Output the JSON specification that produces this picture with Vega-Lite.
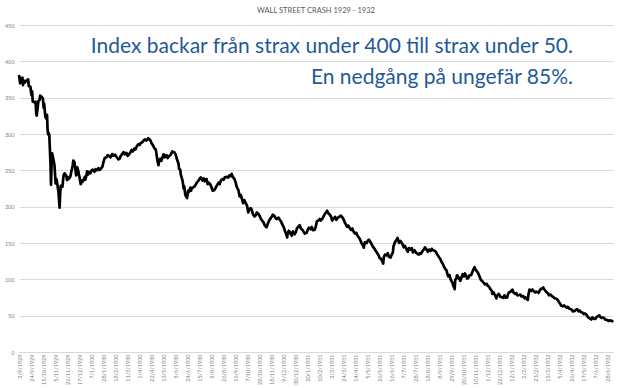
{
  "$schema": "https://vega.github.io/schema/vega-lite/v6.json",
  "width": 594,
  "height": 327,
  "autosize": {"type": "none"},
  "padding": {"left": 19, "top": 25, "right": 7, "bottom": 36},
  "background": "white",
  "config": {
    "view": {"stroke": null},
    "axisX": {"title": null, "labelAngle": 270, "labelFontSize": 5.5, "labelFont": "Lato", "labelColor": "#7f7f7f", "ticks": false, "grid": false, "domainColor": "#d9d9d9", "labelPadding": 2, "labelOverlap": false, "labelFlush": false, "labelBound": false},
    "axisY": {"title": null, "labelFontSize": 5.5, "labelFont": "Lato", "labelColor": "#7f7f7f", "ticks": false, "domain": false, "grid": true, "gridColor": "#d9d9d9", "gridWidth": 1, "labelPadding": 5, "labelOverlap": false, "labelFlush": false}
  },
  "title": {"text": "WALL STREET CRASH 1929 - 1932", "fontSize": 7.5, "font": "Lato", "fontWeight": "normal", "color": "#595959", "anchor": "middle", "offset": 8.5},
  "layer": [
    {
      "data": {
        "format": {"parse": {"d": "utc:'%Y-%m-%d'"}},
        "values": [
          {"d":"1929-09-03","v":381.2},{"d":"1929-09-05","v":369.8},{"d":"1929-09-06","v":376.3},{"d":"1929-09-09","v":377.6},{"d":"1929-09-10","v":367.3},{"d":"1929-09-11","v":373.7},{"d":"1929-09-13","v":370.6},{"d":"1929-09-16","v":373.6},{"d":"1929-09-19","v":375.2},{"d":"1929-09-20","v":366.1},{"d":"1929-09-23","v":365.0},{"d":"1929-09-24","v":357.6},{"d":"1929-09-25","v":353.3},{"d":"1929-09-26","v":358.7},{"d":"1929-09-27","v":344.8},{"d":"1929-09-30","v":343.5},{"d":"1929-10-02","v":344.5},{"d":"1929-10-03","v":329.9},{"d":"1929-10-04","v":325.2},{"d":"1929-10-07","v":345.7},{"d":"1929-10-09","v":346.7},{"d":"1929-10-10","v":352.9},{"d":"1929-10-11","v":352.3},{"d":"1929-10-14","v":350.0},{"d":"1929-10-15","v":347.2},{"d":"1929-10-16","v":336.1},{"d":"1929-10-17","v":341.9},{"d":"1929-10-18","v":333.3},{"d":"1929-10-19","v":323.9},{"d":"1929-10-21","v":320.9},{"d":"1929-10-22","v":326.5},{"d":"1929-10-23","v":305.9},{"d":"1929-10-24","v":299.5},{"d":"1929-10-25","v":301.2},{"d":"1929-10-26","v":299.0},{"d":"1929-10-28","v":260.6},{"d":"1929-10-29","v":230.1},{"d":"1929-10-30","v":258.5},{"d":"1929-10-31","v":273.5},{"d":"1929-11-04","v":257.7},{"d":"1929-11-06","v":232.1},{"d":"1929-11-07","v":238.2},{"d":"1929-11-08","v":236.5},{"d":"1929-11-11","v":220.4},{"d":"1929-11-12","v":209.7},{"d":"1929-11-13","v":198.7},{"d":"1929-11-14","v":217.3},{"d":"1929-11-15","v":228.7},{"d":"1929-11-18","v":227.6},{"d":"1929-11-19","v":236.0},{"d":"1929-11-20","v":243.0},{"d":"1929-11-21","v":245.2},{"d":"1929-11-22","v":245.7},{"d":"1929-11-25","v":241.5},{"d":"1929-11-26","v":236.5},{"d":"1929-11-27","v":241.1},{"d":"1929-11-29","v":238.0},{"d":"1929-12-02","v":241.7},{"d":"1929-12-03","v":246.0},{"d":"1929-12-04","v":250.0},{"d":"1929-12-05","v":253.0},{"d":"1929-12-06","v":257.0},{"d":"1929-12-07","v":263.5},{"d":"1929-12-09","v":261.0},{"d":"1929-12-10","v":256.0},{"d":"1929-12-11","v":248.5},{"d":"1929-12-12","v":243.0},{"d":"1929-12-13","v":253.0},{"d":"1929-12-14","v":254.0},{"d":"1929-12-16","v":248.0},{"d":"1929-12-17","v":243.0},{"d":"1929-12-18","v":240.0},{"d":"1929-12-19","v":235.0},{"d":"1929-12-20","v":230.9},{"d":"1929-12-21","v":233.0},{"d":"1929-12-23","v":236.5},{"d":"1929-12-24","v":235.0},{"d":"1929-12-26","v":238.0},{"d":"1929-12-27","v":241.0},{"d":"1929-12-28","v":237.0},{"d":"1929-12-30","v":243.0},{"d":"1929-12-31","v":248.5},
          {"d":"1930-01-02","v":244.2},{"d":"1930-01-03","v":248.0},{"d":"1930-01-06","v":246.0},{"d":"1930-01-08","v":250.0},{"d":"1930-01-10","v":251.0},{"d":"1930-01-13","v":248.0},{"d":"1930-01-15","v":251.5},{"d":"1930-01-17","v":250.0},{"d":"1930-01-20","v":253.0},{"d":"1930-01-22","v":250.5},{"d":"1930-01-24","v":252.0},{"d":"1930-01-27","v":255.0},{"d":"1930-01-28","v":259.0},{"d":"1930-01-29","v":262.0},{"d":"1930-01-31","v":267.1},{"d":"1930-02-03","v":268.0},{"d":"1930-02-05","v":271.0},{"d":"1930-02-07","v":270.0},{"d":"1930-02-10","v":268.0},{"d":"1930-02-13","v":272.4},{"d":"1930-02-15","v":270.0},{"d":"1930-02-18","v":271.5},{"d":"1930-02-20","v":269.0},{"d":"1930-02-24","v":265.0},{"d":"1930-02-26","v":266.0},{"d":"1930-02-28","v":270.0},{"d":"1930-03-03","v":273.0},{"d":"1930-03-05","v":275.0},{"d":"1930-03-07","v":272.0},{"d":"1930-03-10","v":274.0},{"d":"1930-03-12","v":270.0},{"d":"1930-03-14","v":271.5},{"d":"1930-03-17","v":275.0},{"d":"1930-03-19","v":278.0},{"d":"1930-03-21","v":276.0},{"d":"1930-03-24","v":280.0},{"d":"1930-03-26","v":279.0},{"d":"1930-03-28","v":283.0},{"d":"1930-03-31","v":286.1},{"d":"1930-04-02","v":285.0},{"d":"1930-04-04","v":287.5},{"d":"1930-04-07","v":289.0},{"d":"1930-04-09","v":291.0},{"d":"1930-04-11","v":292.5},{"d":"1930-04-14","v":291.0},{"d":"1930-04-16","v":293.0},{"d":"1930-04-17","v":294.1},{"d":"1930-04-21","v":291.0},{"d":"1930-04-23","v":287.0},{"d":"1930-04-25","v":285.0},{"d":"1930-04-28","v":280.0},{"d":"1930-04-30","v":279.2},{"d":"1930-05-01","v":275.0},{"d":"1930-05-03","v":264.0},{"d":"1930-05-05","v":257.0},{"d":"1930-05-06","v":262.0},{"d":"1930-05-08","v":266.0},{"d":"1930-05-10","v":263.0},{"d":"1930-05-12","v":268.0},{"d":"1930-05-14","v":272.0},{"d":"1930-05-16","v":268.0},{"d":"1930-05-19","v":271.0},{"d":"1930-05-21","v":267.0},{"d":"1930-05-23","v":269.0},{"d":"1930-05-26","v":271.0},{"d":"1930-05-28","v":274.0},{"d":"1930-05-29","v":276.0},{"d":"1930-05-31","v":275.1},{"d":"1930-06-02","v":274.5},{"d":"1930-06-04","v":272.0},{"d":"1930-06-06","v":266.0},{"d":"1930-06-09","v":259.0},{"d":"1930-06-10","v":252.0},{"d":"1930-06-12","v":251.0},{"d":"1930-06-13","v":244.0},{"d":"1930-06-16","v":236.0},{"d":"1930-06-17","v":231.0},{"d":"1930-06-18","v":225.0},{"d":"1930-06-19","v":228.0},{"d":"1930-06-20","v":222.0},{"d":"1930-06-21","v":216.0},{"d":"1930-06-23","v":213.0},{"d":"1930-06-24","v":211.8},{"d":"1930-06-25","v":218.0},{"d":"1930-06-26","v":222.0},{"d":"1930-06-27","v":220.0},{"d":"1930-06-30","v":226.3},{"d":"1930-07-01","v":222.0},{"d":"1930-07-02","v":225.0},{"d":"1930-07-07","v":228.0},{"d":"1930-07-09","v":230.0},{"d":"1930-07-11","v":233.0},{"d":"1930-07-14","v":236.0},{"d":"1930-07-16","v":238.5},{"d":"1930-07-18","v":240.4},{"d":"1930-07-21","v":236.0},{"d":"1930-07-23","v":239.0},{"d":"1930-07-25","v":235.0},{"d":"1930-07-28","v":238.0},{"d":"1930-07-30","v":231.0},{"d":"1930-08-01","v":233.0},{"d":"1930-08-04","v":230.0},{"d":"1930-08-06","v":226.0},{"d":"1930-08-08","v":222.0},{"d":"1930-08-11","v":223.0},{"d":"1930-08-13","v":226.0},{"d":"1930-08-15","v":229.0},{"d":"1930-08-18","v":233.0},{"d":"1930-08-20","v":231.0},{"d":"1930-08-22","v":236.0},{"d":"1930-08-25","v":238.0},{"d":"1930-08-27","v":237.0},{"d":"1930-08-29","v":240.4},{"d":"1930-09-02","v":241.0},{"d":"1930-09-04","v":240.0},{"d":"1930-09-06","v":243.0},{"d":"1930-09-09","v":242.0},{"d":"1930-09-10","v":245.1},{"d":"1930-09-12","v":241.0},{"d":"1930-09-15","v":238.0},{"d":"1930-09-17","v":233.0},{"d":"1930-09-19","v":227.0},{"d":"1930-09-22","v":222.0},{"d":"1930-09-24","v":214.0},{"d":"1930-09-26","v":216.0},{"d":"1930-09-29","v":208.0},{"d":"1930-09-30","v":204.9},{"d":"1930-10-02","v":209.0},{"d":"1930-10-04","v":206.0},{"d":"1930-10-07","v":201.0},{"d":"1930-10-09","v":192.0},{"d":"1930-10-10","v":195.0},{"d":"1930-10-13","v":198.0},{"d":"1930-10-15","v":196.0},{"d":"1930-10-17","v":190.0},{"d":"1930-10-20","v":186.5},{"d":"1930-10-22","v":188.0},{"d":"1930-10-24","v":192.0},{"d":"1930-10-27","v":190.0},{"d":"1930-10-29","v":187.0},{"d":"1930-10-31","v":183.4},{"d":"1930-11-03","v":180.0},{"d":"1930-11-05","v":178.0},{"d":"1930-11-07","v":174.0},{"d":"1930-11-10","v":171.6},{"d":"1930-11-12","v":176.0},{"d":"1930-11-14","v":180.0},{"d":"1930-11-17","v":184.0},{"d":"1930-11-19","v":186.0},{"d":"1930-11-21","v":189.0},{"d":"1930-11-24","v":187.0},{"d":"1930-11-26","v":184.0},{"d":"1930-11-28","v":183.0},{"d":"1930-12-01","v":185.0},{"d":"1930-12-03","v":182.0},{"d":"1930-12-05","v":180.0},{"d":"1930-12-08","v":175.0},{"d":"1930-12-10","v":172.0},{"d":"1930-12-12","v":167.0},{"d":"1930-12-15","v":161.0},{"d":"1930-12-16","v":157.5},{"d":"1930-12-17","v":163.0},{"d":"1930-12-19","v":167.0},{"d":"1930-12-22","v":163.0},{"d":"1930-12-24","v":160.0},{"d":"1930-12-26","v":166.0},{"d":"1930-12-29","v":162.0},{"d":"1930-12-31","v":164.6},
          {"d":"1931-01-02","v":169.8},{"d":"1931-01-05","v":173.0},{"d":"1931-01-07","v":174.5},{"d":"1931-01-09","v":170.0},{"d":"1931-01-12","v":168.0},{"d":"1931-01-14","v":165.0},{"d":"1931-01-16","v":163.0},{"d":"1931-01-19","v":164.0},{"d":"1931-01-21","v":168.0},{"d":"1931-01-23","v":171.0},{"d":"1931-01-26","v":169.0},{"d":"1931-01-28","v":172.0},{"d":"1931-01-30","v":167.7},{"d":"1931-02-02","v":168.0},{"d":"1931-02-04","v":172.0},{"d":"1931-02-06","v":180.0},{"d":"1931-02-09","v":181.0},{"d":"1931-02-11","v":183.0},{"d":"1931-02-13","v":181.0},{"d":"1931-02-16","v":184.0},{"d":"1931-02-18","v":187.0},{"d":"1931-02-20","v":190.0},{"d":"1931-02-24","v":194.4},{"d":"1931-02-26","v":191.0},{"d":"1931-02-28","v":189.7},{"d":"1931-03-03","v":186.0},{"d":"1931-03-05","v":181.0},{"d":"1931-03-07","v":183.0},{"d":"1931-03-10","v":186.0},{"d":"1931-03-12","v":182.0},{"d":"1931-03-14","v":184.0},{"d":"1931-03-17","v":186.0},{"d":"1931-03-20","v":187.7},{"d":"1931-03-23","v":185.0},{"d":"1931-03-25","v":182.0},{"d":"1931-03-27","v":178.0},{"d":"1931-03-31","v":172.4},{"d":"1931-04-02","v":174.0},{"d":"1931-04-04","v":171.0},{"d":"1931-04-07","v":168.0},{"d":"1931-04-09","v":170.0},{"d":"1931-04-11","v":166.0},{"d":"1931-04-14","v":163.0},{"d":"1931-04-16","v":164.0},{"d":"1931-04-18","v":160.0},{"d":"1931-04-21","v":157.0},{"d":"1931-04-23","v":154.0},{"d":"1931-04-25","v":150.0},{"d":"1931-04-28","v":146.0},{"d":"1931-04-29","v":143.6},{"d":"1931-05-01","v":151.0},{"d":"1931-05-04","v":150.0},{"d":"1931-05-06","v":153.0},{"d":"1931-05-08","v":154.5},{"d":"1931-05-11","v":151.0},{"d":"1931-05-13","v":148.0},{"d":"1931-05-15","v":145.0},{"d":"1931-05-18","v":142.0},{"d":"1931-05-20","v":139.0},{"d":"1931-05-22","v":137.0},{"d":"1931-05-25","v":133.0},{"d":"1931-05-27","v":129.0},{"d":"1931-05-29","v":128.5},{"d":"1931-06-01","v":124.0},{"d":"1931-06-02","v":121.7},{"d":"1931-06-03","v":130.0},{"d":"1931-06-05","v":134.0},{"d":"1931-06-08","v":133.0},{"d":"1931-06-10","v":136.0},{"d":"1931-06-12","v":131.0},{"d":"1931-06-15","v":130.0},{"d":"1931-06-17","v":134.0},{"d":"1931-06-19","v":137.0},{"d":"1931-06-20","v":145.0},{"d":"1931-06-22","v":150.0},{"d":"1931-06-24","v":153.0},{"d":"1931-06-26","v":155.0},{"d":"1931-06-27","v":156.9},{"d":"1931-06-29","v":152.0},{"d":"1931-06-30","v":150.2},{"d":"1931-07-02","v":153.0},{"d":"1931-07-06","v":148.0},{"d":"1931-07-08","v":144.0},{"d":"1931-07-10","v":146.0},{"d":"1931-07-13","v":141.0},{"d":"1931-07-15","v":138.0},{"d":"1931-07-17","v":143.0},{"d":"1931-07-20","v":141.0},{"d":"1931-07-22","v":143.0},{"d":"1931-07-24","v":137.0},{"d":"1931-07-27","v":140.0},{"d":"1931-07-29","v":137.0},{"d":"1931-07-31","v":135.7},{"d":"1931-08-03","v":134.0},{"d":"1931-08-05","v":136.0},{"d":"1931-08-07","v":135.0},{"d":"1931-08-10","v":139.0},{"d":"1931-08-12","v":141.0},{"d":"1931-08-14","v":144.0},{"d":"1931-08-15","v":143.0},{"d":"1931-08-17","v":141.0},{"d":"1931-08-19","v":138.0},{"d":"1931-08-21","v":141.0},{"d":"1931-08-24","v":139.0},{"d":"1931-08-26","v":142.0},{"d":"1931-08-28","v":140.0},{"d":"1931-08-31","v":139.4},{"d":"1931-09-02","v":138.0},{"d":"1931-09-04","v":135.0},{"d":"1931-09-08","v":130.0},{"d":"1931-09-10","v":128.0},{"d":"1931-09-12","v":124.0},{"d":"1931-09-14","v":122.0},{"d":"1931-09-16","v":118.0},{"d":"1931-09-18","v":115.0},{"d":"1931-09-21","v":112.0},{"d":"1931-09-22","v":108.0},{"d":"1931-09-24","v":104.0},{"d":"1931-09-26","v":106.0},{"d":"1931-09-28","v":100.0},{"d":"1931-09-30","v":96.6},{"d":"1931-10-01","v":96.0},{"d":"1931-10-02","v":92.8},{"d":"1931-10-05","v":86.5},{"d":"1931-10-06","v":99.3},{"d":"1931-10-08","v":101.0},{"d":"1931-10-09","v":105.6},{"d":"1931-10-10","v":105.0},{"d":"1931-10-13","v":101.0},{"d":"1931-10-15","v":98.0},{"d":"1931-10-17","v":103.0},{"d":"1931-10-19","v":107.0},{"d":"1931-10-21","v":104.0},{"d":"1931-10-23","v":108.0},{"d":"1931-10-24","v":107.0},{"d":"1931-10-27","v":101.0},{"d":"1931-10-29","v":102.0},{"d":"1931-10-31","v":105.4},{"d":"1931-11-03","v":106.0},{"d":"1931-11-05","v":110.0},{"d":"1931-11-07","v":114.0},{"d":"1931-11-09","v":116.8},{"d":"1931-11-10","v":114.0},{"d":"1931-11-12","v":112.0},{"d":"1931-11-14","v":110.0},{"d":"1931-11-16","v":107.0},{"d":"1931-11-18","v":103.0},{"d":"1931-11-20","v":99.0},{"d":"1931-11-23","v":97.0},{"d":"1931-11-25","v":95.0},{"d":"1931-11-27","v":93.0},{"d":"1931-11-30","v":93.9},{"d":"1931-12-02","v":91.0},{"d":"1931-12-04","v":90.0},{"d":"1931-12-07","v":86.0},{"d":"1931-12-09","v":84.0},{"d":"1931-12-10","v":80.0},{"d":"1931-12-12","v":82.0},{"d":"1931-12-14","v":79.0},{"d":"1931-12-16","v":76.0},{"d":"1931-12-17","v":73.8},{"d":"1931-12-18","v":77.0},{"d":"1931-12-21","v":80.0},{"d":"1931-12-22","v":79.0},{"d":"1931-12-24","v":76.0},{"d":"1931-12-28","v":75.0},{"d":"1931-12-29","v":74.5},{"d":"1931-12-31","v":77.9},
          {"d":"1932-01-02","v":74.6},{"d":"1932-01-05","v":75.0},{"d":"1932-01-06","v":79.0},{"d":"1932-01-08","v":82.0},{"d":"1932-01-11","v":83.0},{"d":"1932-01-13","v":85.0},{"d":"1932-01-14","v":85.9},{"d":"1932-01-16","v":82.0},{"d":"1932-01-19","v":80.0},{"d":"1932-01-21","v":81.0},{"d":"1932-01-23","v":78.0},{"d":"1932-01-26","v":78.5},{"d":"1932-01-28","v":79.0},{"d":"1932-01-30","v":76.4},{"d":"1932-02-02","v":77.0},{"d":"1932-02-04","v":74.0},{"d":"1932-02-06","v":75.0},{"d":"1932-02-08","v":73.0},{"d":"1932-02-10","v":71.8},{"d":"1932-02-11","v":78.6},{"d":"1932-02-13","v":85.8},{"d":"1932-02-16","v":84.0},{"d":"1932-02-18","v":86.0},{"d":"1932-02-20","v":84.0},{"d":"1932-02-23","v":82.0},{"d":"1932-02-25","v":83.0},{"d":"1932-02-27","v":82.5},{"d":"1932-02-29","v":81.4},{"d":"1932-03-02","v":85.0},{"d":"1932-03-04","v":87.0},{"d":"1932-03-05","v":86.5},{"d":"1932-03-08","v":88.8},{"d":"1932-03-09","v":87.0},{"d":"1932-03-11","v":85.0},{"d":"1932-03-14","v":82.0},{"d":"1932-03-16","v":81.0},{"d":"1932-03-18","v":78.0},{"d":"1932-03-21","v":79.0},{"d":"1932-03-23","v":77.0},{"d":"1932-03-25","v":76.0},{"d":"1932-03-28","v":74.0},{"d":"1932-03-31","v":73.3},{"d":"1932-04-02","v":72.0},{"d":"1932-04-05","v":68.0},{"d":"1932-04-07","v":66.0},{"d":"1932-04-08","v":64.0},{"d":"1932-04-11","v":62.9},{"d":"1932-04-13","v":64.0},{"d":"1932-04-15","v":63.0},{"d":"1932-04-18","v":61.0},{"d":"1932-04-20","v":62.0},{"d":"1932-04-22","v":60.0},{"d":"1932-04-25","v":59.0},{"d":"1932-04-27","v":58.0},{"d":"1932-04-29","v":56.0},{"d":"1932-05-02","v":56.5},{"d":"1932-05-04","v":58.0},{"d":"1932-05-06","v":59.0},{"d":"1932-05-09","v":56.0},{"d":"1932-05-11","v":57.0},{"d":"1932-05-13","v":55.0},{"d":"1932-05-16","v":54.0},{"d":"1932-05-18","v":52.0},{"d":"1932-05-20","v":53.0},{"d":"1932-05-23","v":51.0},{"d":"1932-05-25","v":48.0},{"d":"1932-05-27","v":47.0},{"d":"1932-05-31","v":44.7},{"d":"1932-06-02","v":47.5},{"d":"1932-06-04","v":46.0},{"d":"1932-06-07","v":45.5},{"d":"1932-06-09","v":48.0},{"d":"1932-06-11","v":49.0},{"d":"1932-06-14","v":50.5},{"d":"1932-06-16","v":48.0},{"d":"1932-06-18","v":47.0},{"d":"1932-06-21","v":47.5},{"d":"1932-06-23","v":46.0},{"d":"1932-06-25","v":44.5},{"d":"1932-06-28","v":44.0},{"d":"1932-06-30","v":42.8},{"d":"1932-07-02","v":43.5},{"d":"1932-07-06","v":43.0},{"d":"1932-07-08","v":41.2}
        ]
      },
      "mark": {"type": "line", "color": "#000000", "strokeWidth": 2.7, "strokeJoin": "round"},
      "encoding": {
        "x": {
          "field": "d", "type": "temporal",
          "scale": {"type": "utc", "domain": [{"year": 1929, "month": 9, "date": 3, "utc": true}, {"year": 1932, "month": 7, "date": 8, "utc": true}]},
          "axis": {
            "format": "%-d/%-m/%Y", "labelOverlap": false, "tickCount": 200,
            "values": [
              {"year":1929,"month":9,"date":3,"utc":true},{"year":1929,"month":9,"date":24,"utc":true},{"year":1929,"month":10,"date":15,"utc":true},{"year":1929,"month":11,"date":5,"utc":true},{"year":1929,"month":11,"date":26,"utc":true},{"year":1929,"month":12,"date":17,"utc":true},
              {"year":1930,"month":1,"date":7,"utc":true},{"year":1930,"month":1,"date":28,"utc":true},{"year":1930,"month":2,"date":18,"utc":true},{"year":1930,"month":3,"date":11,"utc":true},{"year":1930,"month":4,"date":1,"utc":true},{"year":1930,"month":4,"date":22,"utc":true},{"year":1930,"month":5,"date":13,"utc":true},{"year":1930,"month":6,"date":3,"utc":true},{"year":1930,"month":6,"date":24,"utc":true},{"year":1930,"month":7,"date":15,"utc":true},{"year":1930,"month":8,"date":5,"utc":true},{"year":1930,"month":8,"date":26,"utc":true},{"year":1930,"month":9,"date":16,"utc":true},{"year":1930,"month":10,"date":7,"utc":true},{"year":1930,"month":10,"date":28,"utc":true},{"year":1930,"month":11,"date":18,"utc":true},{"year":1930,"month":12,"date":9,"utc":true},{"year":1930,"month":12,"date":30,"utc":true},
              {"year":1931,"month":1,"date":20,"utc":true},{"year":1931,"month":2,"date":10,"utc":true},{"year":1931,"month":3,"date":3,"utc":true},{"year":1931,"month":3,"date":24,"utc":true},{"year":1931,"month":4,"date":14,"utc":true},{"year":1931,"month":5,"date":5,"utc":true},{"year":1931,"month":5,"date":26,"utc":true},{"year":1931,"month":6,"date":16,"utc":true},{"year":1931,"month":7,"date":7,"utc":true},{"year":1931,"month":7,"date":28,"utc":true},{"year":1931,"month":8,"date":18,"utc":true},{"year":1931,"month":9,"date":8,"utc":true},{"year":1931,"month":9,"date":29,"utc":true},{"year":1931,"month":10,"date":20,"utc":true},{"year":1931,"month":11,"date":10,"utc":true},{"year":1931,"month":12,"date":1,"utc":true},{"year":1931,"month":12,"date":22,"utc":true},
              {"year":1932,"month":1,"date":12,"utc":true},{"year":1932,"month":2,"date":2,"utc":true},{"year":1932,"month":2,"date":23,"utc":true},{"year":1932,"month":3,"date":15,"utc":true},{"year":1932,"month":4,"date":5,"utc":true},{"year":1932,"month":4,"date":26,"utc":true},{"year":1932,"month":5,"date":17,"utc":true},{"year":1932,"month":6,"date":7,"utc":true},{"year":1932,"month":6,"date":28,"utc":true}
            ]
          }
        },
        "y": {
          "field": "v", "type": "quantitative",
          "scale": {"domain": [0, 450], "nice": false},
          "axis": {"values": [0, 50, 100, 150, 200, 250, 300, 350, 400, 450], "labelOverlap": false, "grid": true, "tickCount": 50}
        }
      }
    },
    {
      "data": {
        "format": {"parse": {"d": "utc:'%Y-%m-%d'"}},
        "values": [{"d": "1932-04-29", "v": 411, "note": "Index backar från strax under 400 till strax under 50.\nEn nedgång på ungefär 85%."}]
      },
      "mark": {"type": "text", "align": "right", "baseline": "alphabetic", "fontSize": 21, "font": "Lato", "color": "#1F5A98", "lineHeight": 31, "lineBreak": "\n"},
      "encoding": {
        "x": {"field": "d", "type": "temporal"},
        "y": {"field": "v", "type": "quantitative"},
        "text": {"field": "note", "type": "nominal"}
      }
    }
  ]
}
